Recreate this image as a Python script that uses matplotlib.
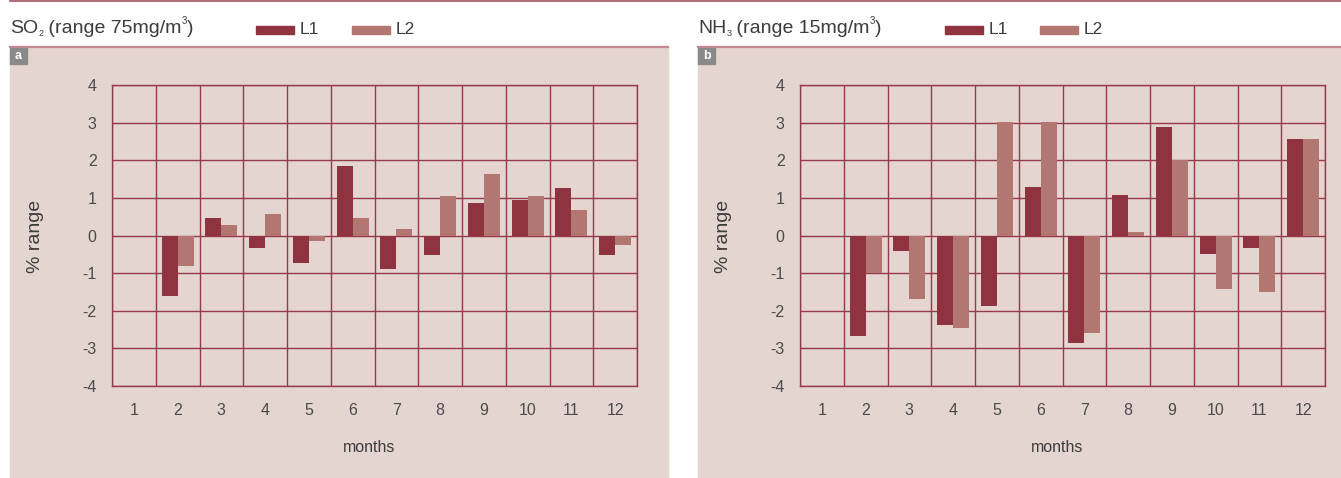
import numpy as np
import matplotlib
matplotlib.use("Agg")
import matplotlib.pyplot as plt
from matplotlib.patches import Rectangle
from matplotlib.lines import Line2D

plt.rcParams['font.family'] = ['Liberation Sans', 'DejaVu Sans']

months = list(range(1, 13))
so2_l1 = [0, -1.62, 0.47, -0.32, -0.72, 1.85, -0.90, -0.53, 0.87, 0.95, 1.27, -0.53]
so2_l2 = [0, -0.82, 0.28, 0.58, -0.14, 0.47, 0.18, 1.05, 1.64, 1.05, 0.68, -0.24]
nh3_l1 = [0, -2.68, -0.40, -2.39, -1.88, 1.29, -2.87, 1.08, 2.88, -0.50, -0.32, 2.57]
nh3_l2 = [0, -1.00, -1.70, -2.47, 3.01, 3.01, -2.58, 0.10, 2.00, -1.41, -1.49, 2.57]
yticks = [4, 3, 2, 1, 0, -1, -2, -3, -4]

W, H = 1341, 478
bg = '#e5d5d1'
grid_c = '#963a49'
c1 = '#8f3341'
c2 = '#b37772'
txt = '#3c3c3c'

fig = plt.figure(figsize=(W / 100, H / 100), dpi=100)
renderer = fig.canvas.get_renderer()


def fx(x):
    return x / W


def fy(y):
    return 1 - y / H


def put_pieces(x, y, pieces):
    # pieces: (text, size, dy in px) written one after another
    for s, size, dy in pieces:
        t = fig.text(fx(x), fy(y + dy), s, color=txt, fontsize=size, ha='left', va='baseline')
        x += t.get_window_extent(renderer).width


# top rule across the page
fig.add_artist(Line2D([fx(10), 1], [fy(1), fy(1)], color='#a3525c', lw=1.2))

panels = [
    dict(x0=10, x1=668, ax=(112, 637), tag='a', gas='SO', sub='2', rng='75',
         leg=(256, 352), l1=so2_l1, l2=so2_l2),
    dict(x0=698, x1=1341, ax=(800, 1325), tag='b', gas='NH', sub='3', rng='15',
         leg=(945, 1040), l1=nh3_l1, l2=nh3_l2),
]

for p in panels:
    x0, x1 = p['x0'], p['x1']
    # panel background and its top edge
    fig.add_artist(Rectangle((fx(x0), 0), fx(x1 - x0), fy(46), color=bg, zorder=0))
    fig.add_artist(Line2D([fx(x0), fx(x1)], [fy(46.5), fy(46.5)], color='#c48a92', lw=1.6))
    # letter tag
    fig.add_artist(Rectangle((fx(x0), fy(64)), fx(17), 16 / H, color='#8a8a8a', zorder=2))
    fig.text(fx(x0 + 8.5), fy(56), p['tag'], color='white', fontsize=9, fontweight='bold',
             ha='center', va='center', zorder=3)
    # title with small sub/superscripts
    put_pieces(x0, 33, [(p['gas'], 14, 0), (p['sub'], 6.5, 3),
                        (' (range ' + p['rng'] + 'mg/m', 14, 0), ('3', 7, -9), (')', 14, 0)])
    for lx, col, lab in [(p['leg'][0], c1, 'L1'), (p['leg'][1], c2, 'L2')]:
        fig.add_artist(Rectangle((fx(lx), fy(34)), fx(38), 8 / H, color=col))
        fig.text(fx(lx + 44), fy(29), lab, color=txt, fontsize=12.5, ha='left', va='center')

    a0, a1 = p['ax']
    ax = fig.add_axes([fx(a0), fy(386), fx(a1 - a0), 301 / H])
    ax.set_facecolor(bg)
    x = np.array(months)
    w = 0.365
    ax.bar(x - w / 2, p['l1'], width=w, color=c1, zorder=3)
    ax.bar(x + w / 2, p['l2'], width=w, color=c2, zorder=3)
    ax.set_xlim(0.5, 12.5)
    ax.set_ylim(-4, 4)
    ax.set_xticks(months)
    ax.set_xticks(np.arange(0.5, 13, 1), minor=True)
    ax.set_yticks(yticks)
    ax.set_yticklabels([str(v) for v in yticks])
    ax.grid(True, which='minor', axis='x', color=grid_c, lw=1.0, zorder=1)
    ax.grid(True, which='major', axis='y', color=grid_c, lw=1.0, zorder=1)
    ax.tick_params(which='both', length=0, colors='#4a4a4a', labelsize=11.5)
    ax.tick_params(axis='x', pad=12)
    ax.tick_params(axis='y', pad=11)
    for s in ax.spines.values():
        s.set_color(grid_c)
        s.set_linewidth(1.0)
    ax.set_axisbelow(True)
    fig.text(fx((a0 + a1) / 2 - 5), fy(448), 'months', color=txt, fontsize=11.5,
             ha='center', va='center')
    fig.text(fx(x0 + 25), fy(236), '% range', color=txt, fontsize=14, rotation=90,
             ha='center', va='center')

fig.savefig('out.png', dpi=100)
